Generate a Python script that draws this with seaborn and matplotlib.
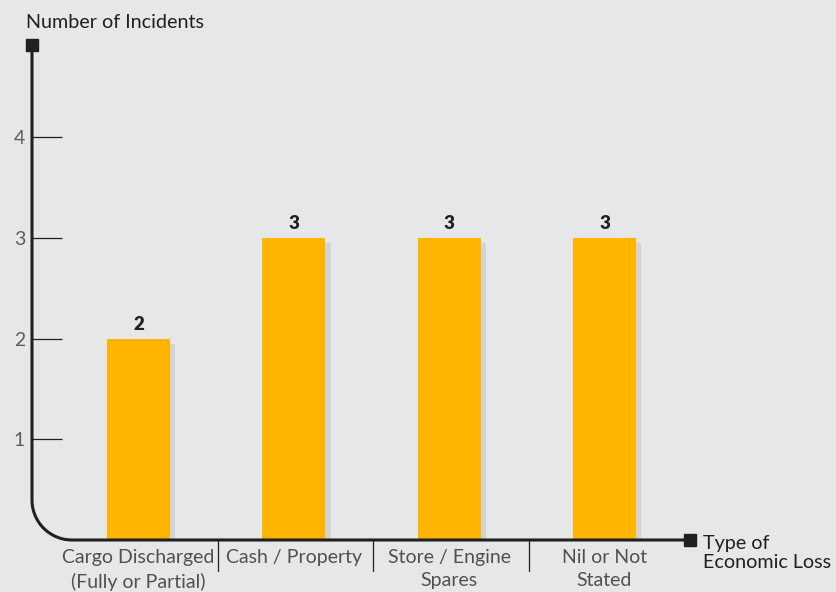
import numpy as np
import matplotlib
matplotlib.use("Agg")
import matplotlib.pyplot as plt
import matplotlib.patheffects as pe
import seaborn as sns

# Data
categories = ["Cargo Discharged\n(Fully or Partial)", "Cash / Property",
              "Store / Engine\nSpares", "Nil or Not\nStated"]
incidents = [2, 3, 3, 3]
y_ticks = [1, 2, 3, 4]

BG = "#E6E7E9"
BAR = "#FFB500"
SHADOW = "#D2D3D5"
INK = "#231F20"
GREY_TEXT = "#505053"

sns.set_theme(style="white")
plt.rcParams["font.family"] = ["Lato", "DejaVu Sans"]

W, H = 836, 592
fig = plt.figure(figsize=(W / 100, H / 100), dpi=100, facecolor=BG)

# axes frame in pixel terms
left_px, right_px, bottom_px, top_px = 32, 690, 540, 45
px_per_x = 155.33
px_per_y = 100.75
first_center_px = 138.5

ax = fig.add_axes([left_px / W, (H - bottom_px) / H,
                   (right_px - left_px) / W, (bottom_px - top_px) / H])
ax.set_facecolor(BG)

xmin = (left_px - first_center_px) / px_per_x
xmax = (right_px - first_center_px) / px_per_x
ymax = (bottom_px - top_px) / px_per_y

sns.barplot(x=categories, y=incidents, color=BAR, saturation=1, width=0.405, ax=ax)
for bar in ax.patches:
    bar.set_edgecolor("none")
    bar.set_path_effects([
        pe.SimplePatchShadow(offset=(3.8, -3.8), shadow_rgbFace=SHADOW, alpha=1.0),
        pe.Normal(),
    ])

ax.set_xlim(xmin, xmax)
ax.set_ylim(0, ymax)

for s in ax.spines.values():
    s.set_visible(False)

# value labels
ax.bar_label(ax.containers[0], fmt="%d", padding=4, fontsize=13.5,
             fontweight="heavy", color=INK)

# curved L-shaped axis
rx = 40 / px_per_x
ry = 40 / px_per_y
t = np.linspace(np.pi, 1.5 * np.pi, 60)
arc_x = xmin + rx + rx * np.cos(t)
arc_y = ry + ry * np.sin(t)
path_x = np.concatenate([[xmin], arc_x, [xmax]])
path_y = np.concatenate([[ymax], arc_y, [0]])
ax.plot(path_x, path_y, color=INK, lw=2.2, clip_on=False, solid_capstyle="butt", zorder=5)
ax.plot([xmin], [ymax], marker="s", ms=9, color=INK, clip_on=False, zorder=6)
ax.plot([xmax], [0], marker="s", ms=9, color=INK, clip_on=False, zorder=6)

# y ticks drawn inward from the axis
ax.set_yticks(y_ticks)
ax.set_yticklabels([str(v) for v in y_ticks])
ax.tick_params(axis="y", direction="in", length=21.5, width=0.9, color=INK,
               pad=5, labelsize=14, labelcolor="#5E5E61", left=True)

# x category labels
ax.tick_params(axis="x", length=0, pad=6.5, labelsize=14, labelcolor=GREY_TEXT)
for lbl in ax.get_xticklabels():
    lbl.set_linespacing(1.45)
    lbl.set_verticalalignment("top")

# separators between categories
for xs in [0.5, 1.5, 2.5]:
    ax.plot([xs + 0.012, xs + 0.012], [0, -31 / px_per_y], color=INK, lw=0.9,
            clip_on=False, zorder=4)

# axis titles
fig.text(26 / W, 1 - 22 / H, "Number of Incidents", fontsize=14.2, color=INK,
         ha="left", va="center")
fig.text(703 / W, 1 - 553 / H, "Type of\nEconomic Loss", fontsize=14.2, color=INK,
         ha="left", va="center", linespacing=1.2)

fig.savefig("out.png", dpi=100, facecolor=BG)
